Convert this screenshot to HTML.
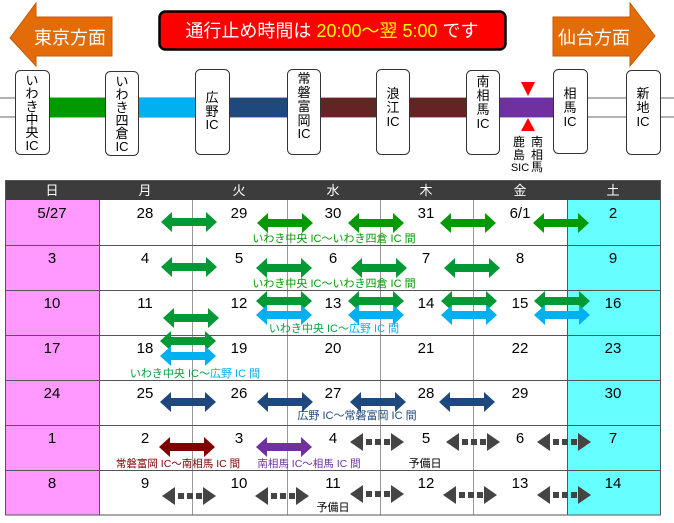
<!DOCTYPE html>
<html><head><meta charset="utf-8"><style>
html,body{margin:0;padding:0;background:#fff;width:674px;height:523px;overflow:hidden}
svg{display:block;font-family:"Liberation Sans","Noto Sans CJK JP",sans-serif}
</style></head><body>
<svg width="674" height="523" viewBox="0 0 674 523" xmlns="http://www.w3.org/2000/svg">
<defs>
<polygon id="a" points="-28,0 -17,-10 -17,-4 17,-4 17,-10 28,0 17,10 17,4 -17,4 -17,10"/>
<g id="g" fill="#444"><polygon points="-27,0 -14,-9 -14,9"/><rect x="-11" y="-3" width="6" height="6"/><rect x="-2" y="-3" width="6" height="6"/><rect x="7" y="-3" width="6" height="6"/><polygon points="14,-9 27,0 14,9"/></g>
</defs>
<polygon points="10,38 36,3 36,17 112,17 112,56 36,56 36,66" fill="#e36c09" stroke="#c55a00" stroke-width="1"/>
<text x="70" y="44" font-size="18" fill="#fff" text-anchor="middle">東京方面</text>
<polygon points="553,17 630,17 630,3 655,36 630,66 630,56 553,56" fill="#e36c09" stroke="#c55a00" stroke-width="1"/>
<text x="594" y="44" font-size="18" fill="#fff" text-anchor="middle">仙台方面</text>
<rect x="159.5" y="11.5" width="346" height="38" rx="6" fill="#ff0000" stroke="#000" stroke-width="2.5"/>
<text x="332" y="37" font-size="18" fill="#fff" text-anchor="middle">通行止め時間は <tspan fill="#ffff00">20:00〜翌 5:00</tspan> です</text>
<line x1="0" y1="98" x2="674" y2="98" stroke="#666" stroke-width="1"/>
<line x1="0" y1="117" x2="674" y2="117" stroke="#666" stroke-width="1"/>
<rect x="50" y="98" width="56" height="19" fill="#009900"/>
<rect x="138" y="98" width="58" height="19" fill="#00b0f0"/>
<rect x="229" y="98" width="59" height="19" fill="#1f497d"/>
<rect x="320" y="98" width="148" height="19" fill="#632523"/>
<rect x="500" y="98" width="55" height="19" fill="#7030a0"/>
<polygon points="521,82 535,82 528,96" fill="#ff0000"/>
<polygon points="521,131 535,131 528,118" fill="#ff0000"/>
<g font-size="12" fill="#000" text-anchor="middle">
<text x="519" y="146">鹿</text><text x="519" y="159">島</text><text x="520" y="171" font-size="11">SIC</text>
<text x="537" y="146">南</text><text x="537" y="159">相</text><text x="537" y="171">馬</text>
</g>
<g fill="#fff" stroke="#333" stroke-width="1">
<rect x="15.5" y="70.5" width="34" height="84" rx="5"/>
<rect x="105.5" y="71.5" width="33" height="84" rx="5"/>
<rect x="195.5" y="69.5" width="34" height="85" rx="5"/>
<rect x="287.5" y="69.5" width="33" height="85" rx="5"/>
<rect x="376.5" y="69.5" width="33" height="85" rx="5"/>
<rect x="466.5" y="70.5" width="33" height="84" rx="5"/>
<rect x="553.5" y="69.5" width="34" height="84" rx="5"/>
<rect x="626.5" y="70.5" width="34" height="84" rx="5"/>
</g>
<g font-size="13" fill="#000" text-anchor="middle">
<text x="32" y="85">い</text><text x="32" y="98">わ</text><text x="32" y="111">き</text><text x="32" y="124">中</text><text x="32" y="137">央</text><text x="32" y="150">IC</text>
<text x="122" y="86">い</text><text x="122" y="99">わ</text><text x="122" y="112">き</text><text x="122" y="125">四</text><text x="122" y="138">倉</text><text x="122" y="151">IC</text>
<text x="212" y="102">広</text><text x="212" y="116">野</text><text x="212" y="129">IC</text>
<text x="304" y="83">常</text><text x="304" y="97">磐</text><text x="304" y="111">富</text><text x="304" y="125">岡</text><text x="304" y="138">IC</text>
<text x="393" y="98">浪</text><text x="393" y="112">江</text><text x="393" y="126">IC</text>
<text x="483" y="86">南</text><text x="483" y="100">相</text><text x="483" y="114">馬</text><text x="483" y="128">IC</text>
<text x="570" y="98">相</text><text x="570" y="112">馬</text><text x="570" y="126">IC</text>
<text x="643" y="98">新</text><text x="643" y="112">地</text><text x="643" y="126">IC</text>
</g>
<rect x="5" y="180" width="655" height="20" fill="#3c3c3c"/>
<g font-size="13" fill="#fff" text-anchor="middle">
<text x="52" y="195">日</text><text x="145" y="195">月</text><text x="239" y="195">火</text><text x="333" y="195">水</text><text x="426" y="195">木</text><text x="520" y="195">金</text><text x="613" y="195">土</text>
</g>
<rect x="5" y="200" width="94" height="315" fill="#ff99ff"/>
<rect x="567" y="200" width="93" height="315" fill="#66ffff"/>
<g stroke="#999" stroke-width="1">
<line x1="192.5" y1="200" x2="192.5" y2="515"/><line x1="287.5" y1="200" x2="287.5" y2="515"/><line x1="380.5" y1="200" x2="380.5" y2="515"/><line x1="473.5" y1="200" x2="473.5" y2="515"/>
</g>
<g stroke="#555" stroke-width="1">
<line x1="99.5" y1="200" x2="99.5" y2="515"/><line x1="567.5" y1="200" x2="567.5" y2="515"/>
<line x1="5" y1="245.5" x2="660" y2="245.5"/><line x1="5" y1="290.5" x2="660" y2="290.5"/><line x1="5" y1="335.5" x2="660" y2="335.5"/><line x1="5" y1="380.5" x2="660" y2="380.5"/><line x1="5" y1="425.5" x2="660" y2="425.5"/><line x1="5" y1="470.5" x2="660" y2="470.5"/>
<rect x="5.5" y="180.5" width="655" height="334.5" fill="none"/>
</g>
<g font-size="15" fill="#000" text-anchor="middle">
<text x="52" y="218">5/27</text><text x="145" y="218">28</text><text x="239" y="218">29</text><text x="333" y="218">30</text><text x="426" y="218">31</text><text x="520" y="218">6/1</text><text x="613" y="218">2</text>
<text x="52" y="263">3</text><text x="145" y="263">4</text><text x="239" y="263">5</text><text x="333" y="263">6</text><text x="426" y="263">7</text><text x="520" y="263">8</text><text x="613" y="263">9</text>
<text x="52" y="308">10</text><text x="145" y="308">11</text><text x="239" y="308">12</text><text x="333" y="308">13</text><text x="426" y="308">14</text><text x="520" y="308">15</text><text x="613" y="308">16</text>
<text x="52" y="353">17</text><text x="145" y="353">18</text><text x="239" y="353">19</text><text x="333" y="353">20</text><text x="426" y="353">21</text><text x="520" y="353">22</text><text x="613" y="353">23</text>
<text x="52" y="398">24</text><text x="145" y="398">25</text><text x="239" y="398">26</text><text x="333" y="398">27</text><text x="426" y="398">28</text><text x="520" y="398">29</text><text x="613" y="398">30</text>
<text x="52" y="443">1</text><text x="145" y="443">2</text><text x="239" y="443">3</text><text x="333" y="443">4</text><text x="426" y="443">5</text><text x="520" y="443">6</text><text x="613" y="443">7</text>
<text x="52" y="488">8</text><text x="145" y="488">9</text><text x="239" y="488">10</text><text x="333" y="488">11</text><text x="426" y="488">12</text><text x="520" y="488">13</text><text x="613" y="488">14</text>
</g>
<g fill="#009933">
<use href="#a" x="189" y="222"/><use href="#a" x="285" y="223" fill="#009900"/><use href="#a" x="376" y="223" fill="#009900"/><use href="#a" x="468" y="223" fill="#009900"/><use href="#a" x="561" y="223" fill="#009900"/>
<use href="#a" x="189" y="267"/><use href="#a" x="284" y="268"/><use href="#a" x="379" y="268"/><use href="#a" x="472" y="268"/>
<use href="#a" x="191" y="318"/><use href="#a" x="284" y="301"/><use href="#a" x="376" y="301"/><use href="#a" x="469" y="301"/><use href="#a" x="562" y="301"/>
<use href="#a" x="188" y="341"/>
</g>
<g fill="#00b0f0">
<use href="#a" x="284" y="315"/><use href="#a" x="376" y="315"/><use href="#a" x="469" y="315"/><use href="#a" x="562" y="315"/>
<use href="#a" x="188" y="356"/>
</g>
<g fill="#1f497d">
<use href="#a" x="188" y="402"/><use href="#a" x="285" y="402"/><use href="#a" x="378" y="402"/><use href="#a" x="467" y="402"/>
</g>
<use href="#a" x="187" y="447" fill="#800000"/>
<use href="#a" x="284" y="447" fill="#7030a0"/>
<use href="#g" x="377" y="442"/><use href="#g" x="473" y="442"/><use href="#g" x="564" y="442"/>
<use href="#g" x="189" y="496"/><use href="#g" x="282" y="496"/><use href="#g" x="377" y="494"/><use href="#g" x="470" y="495"/><use href="#g" x="564" y="495"/>
<g font-size="11" text-anchor="middle">
<text x="334" y="242" fill="#009900">いわき中央 IC〜いわき四倉 IC 間</text>
<text x="334" y="287" fill="#009900">いわき中央 IC〜いわき四倉 IC 間</text>
<text x="334" y="332"><tspan fill="#00a040">いわき中央 IC〜</tspan><tspan fill="#00b0f0">広野 IC 間</tspan></text>
<text x="195" y="377"><tspan fill="#00a040">いわき中央 IC〜</tspan><tspan fill="#00b0f0">広野 IC 間</tspan></text>
<text x="357" y="419" fill="#1f497d">広野 IC〜常磐富岡 IC 間</text>
<text x="178" y="467" fill="#800000" font-size="10.5">常磐富岡 IC〜南相馬 IC 間</text>
<text x="309" y="467" fill="#7030a0" font-size="10.5">南相馬 IC〜相馬 IC 間</text>
<text x="425" y="467" fill="#000">予備日</text>
<text x="333" y="511" fill="#000">予備日</text>
</g>
</svg>
</body></html>
